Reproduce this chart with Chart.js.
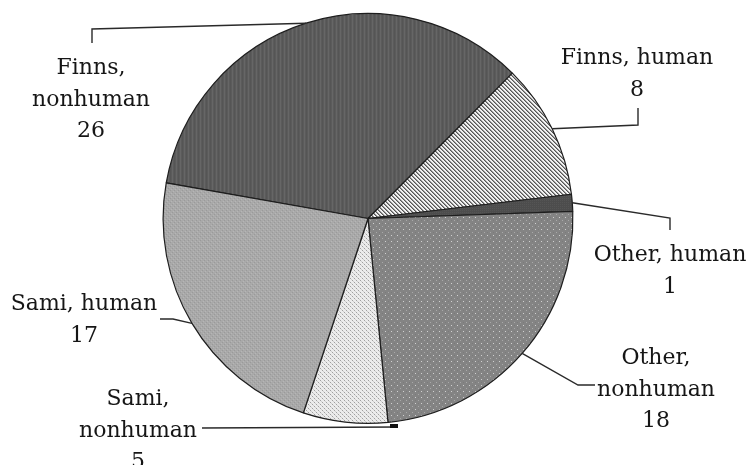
<!DOCTYPE html>
<html>
<head>
<meta charset="utf-8">
<script src="https://cdn.jsdelivr.net/npm/chart.js@4"></script>
<style>
  html, body { margin: 0; padding: 0; background: #fff; }
  #wrap { width: 752px; height: 465px; position: relative; }
</style>
</head>
<body>
<div id="wrap"><canvas id="pie" width="752" height="465"></canvas></div>
<script>
// --- data ---
const categories = ['Finns, nonhuman', 'Finns, human', 'Other, human', 'Other, nonhuman', 'Sami, nonhuman', 'Sami, human'];
const counts = [26, 8, 1, 18, 5, 17];
const labelLines = [['Finns,', 'nonhuman'], ['Finns, human'], ['Other, human'], ['Other,', 'nonhuman'], ['Sami,', 'nonhuman'], ['Sami, human']];

// --- label placement (text anchor + leader elbows, last point goes to the slice edge) ---
const labelPlace = [
  { x: 91, y: 74, leader: [[92, 43], [92, 29]], toArc: true },
  { x: 637, y: 64, leader: [[638, 108], [638, 125]], toArc: true },
  { x: 670, y: 261, leader: [[670, 230], [670, 218]], toArc: true },
  { x: 656, y: 364, leader: [[595, 385], [578, 385]], toArc: true },
  { x: 138, y: 405, leader: [[202, 428], [398, 427]], toArc: false },
  { x: 84, y: 310, leader: [[160, 319], [173, 319]], toArc: true }
];
const lineH = 31.5;

// --- fill patterns ---
function makePattern(size, draw) {
  const c = document.createElement('canvas');
  c.width = size; c.height = size;
  const g = c.getContext('2d');
  draw(g, size);
  return g.createPattern(c, 'repeat');
}

const fills = [
  // dark grey, fine vertical grain
  makePattern(4, (g, s) => {
    g.fillStyle = '#5b5b5b'; g.fillRect(0, 0, s, s);
    g.fillStyle = '#666'; g.fillRect(0, 0, 1, s);
    g.fillStyle = '#555'; g.fillRect(2, 0, 1, s);
  }),
  // diagonal hatch
  makePattern(4, (g, s) => {
    g.fillStyle = '#f2f2f2'; g.fillRect(0, 0, s, s);
    g.fillStyle = '#555';
    for (let i = 0; i < s; i++) g.fillRect(i, i, 1, 1);
    g.fillStyle = '#999';
    for (let i = 0; i < s; i++) g.fillRect((i + 1) % s, i, 1, 1);
  }),
  // solid darker grey
  makePattern(2, (g, s) => {
    g.fillStyle = '#4d4d4d'; g.fillRect(0, 0, s, s);
    g.fillStyle = '#555'; g.fillRect(0, 0, 1, 1);
  }),
  // medium grey with light dots
  makePattern(6, (g, s) => {
    g.fillStyle = '#848484'; g.fillRect(0, 0, s, s);
    g.fillStyle = '#7a7a7a'; g.fillRect(1, 4, 1, 1); g.fillRect(4, 1, 1, 1);
    g.fillStyle = '#d0d0d0'; g.fillRect(1, 1, 1, 1);
    g.fillStyle = '#a8a8a8'; g.fillRect(4, 4, 1, 1);
  }),
  // light with grey cross dots
  makePattern(4, (g, s) => {
    g.fillStyle = '#ececec'; g.fillRect(0, 0, s, s);
    g.fillStyle = '#a0a0a0'; g.fillRect(0, 0, 1, 1); g.fillRect(2, 2, 1, 1);
    g.fillStyle = '#cfcfcf'; g.fillRect(1, 1, 1, 1); g.fillRect(3, 3, 1, 1);
  }),
  // light grey stipple
  makePattern(4, (g, s) => {
    g.fillStyle = '#a9a9a9'; g.fillRect(0, 0, s, s);
    g.fillStyle = '#9a9a9a'; g.fillRect(0, 0, 1, 1); g.fillRect(2, 2, 1, 1);
    g.fillStyle = '#b6b6b6'; g.fillRect(1, 3, 1, 1); g.fillRect(3, 1, 1, 1);
  })
];

// --- labels + leader lines ---
const pieLabels = {
  id: 'pieLabels',
  afterDraw(chart) {
    const ctx = chart.ctx;
    const arcs = chart.getDatasetMeta(0).data;
    ctx.save();
    ctx.strokeStyle = '#2a2a2a';
    ctx.lineWidth = 1.4;
    labelPlace.forEach((p, i) => {
      const pts = p.leader.slice();
      if (p.toArc) {
        const a = arcs[i];
        const mid = (a.startAngle + a.endAngle) / 2;
        pts.push([a.x + Math.cos(mid) * a.outerRadius, a.y + Math.sin(mid) * a.outerRadius]);
      }
      ctx.beginPath();
      ctx.moveTo(pts[0][0], pts[0][1]);
      for (let k = 1; k < pts.length; k++) ctx.lineTo(pts[k][0], pts[k][1]);
      ctx.stroke();
      if (!p.toArc) {
        const e = pts[pts.length - 1];
        ctx.fillStyle = '#111';
        ctx.fillRect(e[0] - 8, e[1] - 3, 8, 4);
      }

      ctx.fillStyle = '#161616';
      ctx.font = '22px "DejaVu Serif", serif';
      ctx.textAlign = 'center';
      ctx.textBaseline = 'alphabetic';
      const lines = labelLines[i].concat([String(counts[i])]);
      lines.forEach((t, k) => ctx.fillText(t, p.x, p.y + k * lineH));
    });
    ctx.restore();
  }
};

// --- chart ---
const ctx = document.getElementById('pie').getContext('2d');
const pieChart = new Chart(ctx, {
  type: 'pie',
  data: {
    labels: categories,
    datasets: [{
      data: counts,
      backgroundColor: fills,
      borderColor: '#1e1e1e',
      borderWidth: 1.2
    }]
  },
  options: {
    responsive: false,
    animation: false,
    rotation: 280,
    layout: { padding: { top: 13, bottom: 41, left: 162, right: 178 } },
    plugins: {
      legend: { display: false },
      tooltip: { enabled: false }
    },
    events: []
  },
  plugins: [pieLabels]
});
</script>
</body>
</html>
